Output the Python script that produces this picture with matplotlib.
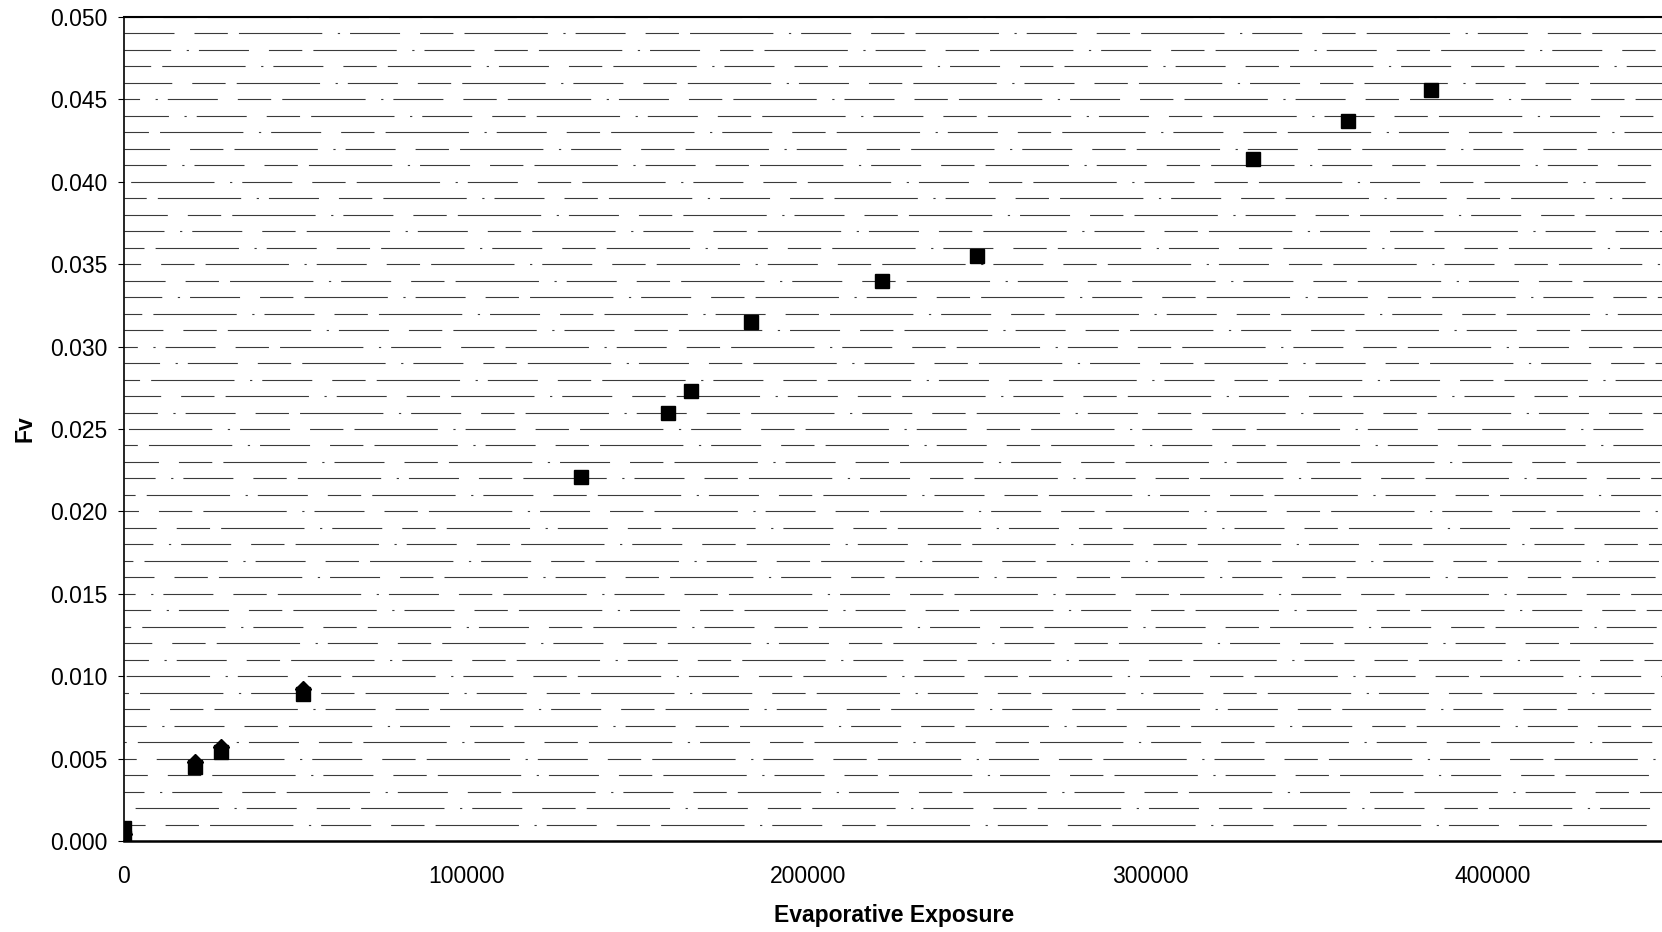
import matplotlib
import numpy as np

matplotlib.use("Agg")
import matplotlib.pyplot as plt
from matplotlib.ticker import MultipleLocator, FormatStrFormatter

# measured points (squares)
sq_x = [0, 0, 20700, 28400, 52300, 133500, 159000, 165700, 183200,
        221500, 249200, 329900, 357600, 381900]
sq_y = [0.0002, 0.0008, 0.0045, 0.0054, 0.0089, 0.0221, 0.0260, 0.0273,
        0.0315, 0.0340, 0.0355, 0.0414, 0.0437, 0.0456]

# second series (diamonds), mostly hidden behind the squares
dm_x = [0, 20700, 28400, 52300]
dm_y = [0.0004, 0.0048, 0.0057, 0.0092]

plt.rcParams["font.family"] = ["Liberation Sans", "DejaVu Sans"]

fig = plt.figure(figsize=(16.62, 9.32), dpi=100)
ax = fig.add_axes([124 / 1662, 91 / 932, 1540 / 1662, 824 / 932])

ax.plot(dm_x, dm_y, linestyle="none", marker="D", markersize=8,
        color="black", zorder=3)
ax.plot(sq_x, sq_y, linestyle="none", marker="s", markersize=10,
        color="black", zorder=4)

ax.set_xlim(0, 450000)
ax.set_ylim(0, 0.050)
ax.xaxis.set_major_locator(MultipleLocator(100000))
ax.yaxis.set_major_locator(MultipleLocator(0.005))
ax.yaxis.set_minor_locator(MultipleLocator(0.001))
ax.yaxis.set_major_formatter(FormatStrFormatter("%.3f"))

# scanned fill shows up as broken horizontal lines
ax.grid(True, axis="y", which="both", color="#3a3a3a", linewidth=0.8)
ax.set_axisbelow(True)
pattern = (75, 14, 2, 9, 45, 18, 30, 10)
ticks = ax.yaxis.get_major_ticks() + ax.yaxis.get_minor_ticks()
for i, t in enumerate(ticks):
    t.gridline.set_linestyle(((i * 67) % 203, pattern))

ax.tick_params(axis="y", which="major", direction="out", length=4,
               width=0.8, labelsize=16.5, pad=8)
ax.tick_params(axis="y", which="minor", length=0)
ax.tick_params(axis="x", length=0, labelsize=16.5, pad=17)

for side in ["left", "bottom", "top"]:
    ax.spines[side].set_color("black")
ax.spines["left"].set_linewidth(1.2)
ax.spines["bottom"].set_linewidth(1.8)
ax.spines["top"].set_linewidth(1.5)
ax.spines["right"].set_visible(False)

ax.set_xlabel("Evaporative Exposure", fontsize=16.5, fontweight="bold",
              labelpad=12)
ax.set_ylabel("Fv", fontsize=16.5, fontweight="bold", labelpad=10)

fig.savefig("out.png", dpi=100)
